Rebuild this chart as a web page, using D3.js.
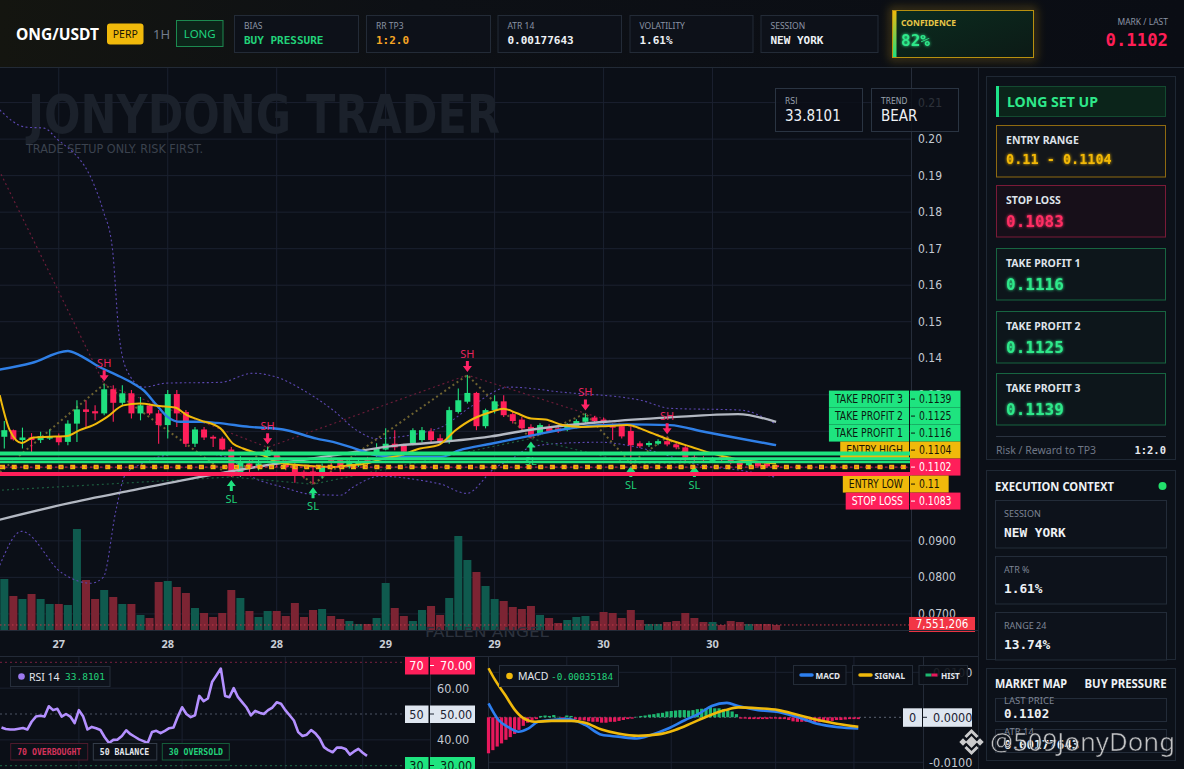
<!DOCTYPE html>
<html>
<head>
<meta charset="utf-8">
<title>ONG/USDT long setup</title>
<script src="https://cdn.jsdelivr.net/npm/d3@7/dist/d3.min.js"></script>
<style>
  html, body { margin: 0; padding: 0; background: #0b0f16; overflow: hidden; }
  svg { display: block; }
</style>
</head>
<body>
<div class="chart"></div>
<script>
// ---------- data (1H candles, oldest first) ----------
const opens = [0.1185,0.1203,0.1176,0.1183,0.1176,0.1180,0.1187,0.1171,0.1221,0.1260,
  0.1255,0.1249,0.1315,0.1278,0.1304,0.1249,0.1271,0.1249,0.1217,0.1302,
  0.1253,0.1166,0.1205,0.1185,0.1180,0.1150,0.1086,0.1112,0.1105,0.1132,
  0.1139,0.1116,0.1107,0.1089,0.1090,0.1077,0.1127,0.1121,0.1102,0.1107,
  0.1121,0.1135,0.1150,0.1166,0.1162,0.1167,0.1176,0.1200,0.1181,0.1171,
  0.1253,0.1281,0.1305,0.1214,0.1258,0.1282,0.1247,0.1232,0.1212,0.1194,
  0.1212,0.1208,0.1205,0.1212,0.1226,0.1238,0.1232,0.1214,0.1214,0.1201,
  0.1167,0.1162,0.1166,0.1173,0.1164,0.1156,0.1130,0.1127,0.1119,0.1130,
  0.1125,0.1116,0.1107,0.1114,0.1112,0.1107];
const highs = [0.1228,0.1205,0.1210,0.1195,0.1199,0.1205,0.1194,0.1230,0.1285,0.1285,
  0.1271,0.1329,0.1326,0.1326,0.1313,0.1294,0.1276,0.1258,0.1313,0.1313,
  0.1258,0.1212,0.1212,0.1189,0.1185,0.1157,0.1132,0.1125,0.1125,0.1156,
  0.1143,0.1121,0.1113,0.1093,0.1102,0.1112,0.1130,0.1125,0.1121,0.1125,
  0.1130,0.1167,0.1208,0.1203,0.1166,0.1208,0.1212,0.1208,0.1192,0.1267,
  0.1317,0.1354,0.1308,0.1262,0.1299,0.1299,0.1253,0.1239,0.1219,0.1222,
  0.1219,0.1214,0.1222,0.1233,0.1249,0.1242,0.1238,0.1221,0.1219,0.1214,
  0.1173,0.1173,0.1178,0.1184,0.1170,0.1162,0.1135,0.1132,0.1130,0.1135,
  0.1130,0.1119,0.1116,0.1118,0.1115,0.1108];
const lows = [0.1153,0.1175,0.1153,0.1141,0.1168,0.1176,0.1162,0.1162,0.1171,0.1212,
  0.1230,0.1244,0.1226,0.1271,0.1235,0.1230,0.1244,0.1166,0.1180,0.1212,
  0.1157,0.1157,0.1176,0.1157,0.1148,0.1075,0.1075,0.1084,0.1093,0.1121,
  0.1102,0.1093,0.1059,0.1071,0.1055,0.1071,0.1093,0.1089,0.1098,0.1102,
  0.1107,0.1130,0.1148,0.1148,0.1121,0.1162,0.1170,0.1170,0.1166,0.1166,
  0.1249,0.1276,0.1203,0.1208,0.1249,0.1239,0.1221,0.1203,0.1180,0.1189,
  0.1198,0.1195,0.1200,0.1208,0.1221,0.1224,0.1219,0.1176,0.1180,0.1113,
  0.1154,0.1157,0.1162,0.1159,0.1151,0.1116,0.1113,0.1116,0.1115,0.1119,
  0.1110,0.1104,0.1104,0.1100,0.1100,0.1099];
const closes = [0.1203,0.1178,0.1183,0.1176,0.1187,0.1185,0.1170,0.1221,0.1260,0.1253,
  0.1249,0.1315,0.1278,0.1304,0.1249,0.1271,0.1249,0.1217,0.1302,0.1249,
  0.1166,0.1205,0.1183,0.1180,0.1150,0.1084,0.1116,0.1103,0.1112,0.1148,
  0.1119,0.1102,0.1084,0.1083,0.1087,0.1104,0.1119,0.1102,0.1113,0.1116,
  0.1112,0.1154,0.1166,0.1156,0.1144,0.1203,0.1203,0.1176,0.1171,0.1258,
  0.1285,0.1305,0.1214,0.1258,0.1282,0.1244,0.1228,0.1208,0.1186,0.1217,
  0.1201,0.1200,0.1217,0.1228,0.1238,0.1228,0.1223,0.1210,0.1186,0.1162,
  0.1159,0.1168,0.1173,0.1164,0.1156,0.1128,0.1125,0.1121,0.1125,0.1123,
  0.1113,0.1107,0.1113,0.1104,0.1104,0.1102];
// volume in millions
const volumes = [76.5,51,46.5,54,46.5,39,39,37.5,151.5,75,
  46.5,60,49.5,39,39,22.5,18,72,73.5,64.5,
  55.5,33,25.5,19.5,25.5,60,48,28.5,19.5,28.5,
  28.5,21,40.5,19.5,30,31.5,21,16.5,13.5,9,
  9,18,70.5,33,21,13.5,30,36,22.5,48,
  141,105,87,66,46.5,43.5,34.5,31.5,36,22.5,
  18,10.5,15,19.5,21,13.5,27,25.5,18,30,
  15,9,9,12,13.5,25.5,18,12,12,7.5,
  13.5,12,9,9,9,7.551206];

const timeTickIdx = [6, 18, 30, 42, 54, 66, 78];
const timeTickLabels = ['27', '28', '28', '29', '29', '30', '30'];
const priceTicks = [0.21, 0.20, 0.19, 0.18, 0.17, 0.16, 0.15, 0.14, 0.13, 0.12, 0.11, 0.10, 0.09, 0.08, 0.07];
const subGridIdx = [18, 42, 66, 84];

// overlays, read as [candle index, price]
const emaBlue = [[-0.5,0.1369],[3,0.1387],[7,0.1420],[8.3,0.1408],[10.5,0.1376],[12.4,0.1354],[14.2,0.1331],
  [15.3,0.1313],[16.8,0.1271],[17.9,0.1241],[19.4,0.1226],[21.6,0.1226],[23.4,0.1223],[27,0.1212],
  [30.7,0.1205],[34.4,0.1180],[36.2,0.1171],[39.2,0.1148],[41,0.1134],[43.6,0.1130],[48.1,0.1130],
  [50.1,0.1148],[53.6,0.1166],[57.6,0.1186],[61.5,0.1205],[65.5,0.1217],[68.6,0.1219],[73.3,0.1217],
  [77.2,0.1198],[80.4,0.1183],[85,0.1162]];
const emaYellow = [[-0.5,0.1299],[0.6,0.1203],[1.9,0.1168],[3.2,0.1183],[5,0.1185],[6.9,0.1187],[8.3,0.1203],
  [9.8,0.1217],[11.3,0.1239],[13.1,0.1271],[14.9,0.1276],[17.1,0.1269],[18.8,0.1265],[20.1,0.1244],
  [21.6,0.1230],[23.8,0.1208],[25.2,0.1166],[26.3,0.1153],[28.5,0.1134],[30,0.1116],[32.6,0.1107],
  [36.2,0.1102],[38.1,0.1107],[39.9,0.1112],[41.7,0.1125],[43.6,0.1134],[45.8,0.1153],[47.8,0.1162],
  [49.7,0.1203],[51.7,0.1235],[53.6,0.1253],[55,0.1262],[56.4,0.1250],[58,0.1235],[59.6,0.1232],
  [61.5,0.1217],[63.5,0.1212],[66.2,0.1214],[68.6,0.1217],[71,0.1198],[73.3,0.1176],[75.7,0.1157],
  [78,0.1139],[80.4,0.1125],[83.2,0.1116],[85,0.1112]];
const emaGray = [[-0.5,0.0958],[6.9,0.1002],[14.2,0.1039],[21.6,0.1075],[28.9,0.1107],[36.2,0.1134],
  [43.6,0.1162],[45.8,0.1166],[53.6,0.1186],[57.6,0.1203],[66.2,0.1226],[73.3,0.1238],[80.8,0.1247],[85,0.1226]];
const bandUpper = [[-0.5,0.2080],[2.3,0.2033],[4.4,0.2030],[5.7,0.2003],[9.9,0.1874],[10.9,0.1803],[11.9,0.1702],
  [12.6,0.1474],[13.5,0.1367],[15.3,0.1321],[17.9,0.1332],[23.8,0.1334],[27.4,0.1359],[30,0.1348],
  [33.3,0.1307],[36.2,0.1258],[38.8,0.1203],[41,0.1180],[43.6,0.1185],[45.8,0.1195],[48.1,0.1211],
  [51.6,0.1271],[55.6,0.1321],[61.5,0.1307],[70.1,0.1285],[73.3,0.1263],[81.1,0.1258],[85,0.1219]];
const bandLower = [[-0.5,0.0833],[1.9,0.0926],[6.4,0.0811],[9.5,0.0784],[10.9,0.0800],[12.3,0.0984],
  [13.3,0.1080],[15.3,0.1113],[18.6,0.1137],[21.6,0.1140],[24.5,0.1129],[27.4,0.1074],[30.7,0.1047],
  [33.7,0.1028],[37,0.1025],[38.4,0.1047],[41.4,0.1077],[45.8,0.1066],[48.1,0.1055],[50.9,0.1030],
  [54,0.1099],[56,0.1126],[57.9,0.1156],[61.2,0.1167],[65.6,0.1170],[67.8,0.1165],[71.1,0.1148],
  [76.6,0.1107],[81.1,0.1093],[85,0.1074]];

// swing points
const shIdx = [11, 29, 51, 64, 73];
const slIdx = [25, 34, 58, 69, 76];
const priorSH = [-4, 0.2088];
const priorSL = [-3, 0.1035];

// trade levels, top to bottom
const levelNames  = ['TAKE PROFIT 3', 'TAKE PROFIT 2', 'TAKE PROFIT 1', 'ENTRY HIGH', '', 'ENTRY LOW', 'STOP LOSS'];
const levelPrices = [0.1139, 0.1125, 0.1116, 0.1104, 0.1102, 0.11, 0.1083];
const levelKinds  = ['tp', 'tp', 'tp', 'entry', 'last', 'entry', 'sl'];

// RSI 14, one value per candle
const rsiValues = [44.8,44.2,44.0,44.0,44.3,44.6,44.0,47.0,49.0,49.3,
  49.0,53.0,51.5,52.0,49.0,50.0,49.0,46.5,51.5,49.0,
  44.0,45.0,44.5,43.8,41.0,38.8,40.0,40.1,41.5,43.7,
  42.2,41.2,40.2,39.5,38.8,43.0,43.5,42.6,43.5,44.5,
  44.8,49.0,52.6,50.0,48.8,49.5,57.0,55.0,56.0,62.5,
  65.0,67.6,57.0,56.5,60.0,56.5,54.5,52.5,49.5,51.2,
  50.5,50.0,51.5,52.5,54.5,54.0,51.5,49.5,47.5,43.0,
  41.5,42.0,43.8,42.5,40.5,37.2,36.0,35.2,37.0,37.0,
  36.5,34.3,35.5,36.5,35.0,33.8101];

// MACD (as plotted against the pane axis)
const macdLine = [[0,0.0031],[2.3,-0.0006],[4.6,-0.0022],[6.9,-0.0032],[9.1,-0.0025],[11.4,-0.0010],[14.5,-0.0006],
  [18.3,-0.0004],[22.2,-0.0017],[26,-0.0039],[29.8,-0.0043],[34.1,-0.0047],[37.5,-0.0039],[41.3,-0.0025],
  [45.2,-0.0006],[48.2,0.0007],[51.3,0.0025],[54.8,0.0032],[57.4,0.0025],[62,0.0016],[66.6,0.0012],
  [71.2,0.0000],[75.8,-0.0015],[80.4,-0.0022],[85,-0.0025]];
const signalLine = [[0,0.0109],[1.5,0.0083],[3.8,0.0050],[6.1,0.0016],[8,-0.0002],[10.7,-0.0010],[14.5,-0.0008],
  [19.1,-0.0008],[22.2,-0.0012],[26,-0.0027],[29.8,-0.0036],[34.4,-0.0041],[39,-0.0038],[42.9,-0.0028],
  [46.7,-0.0013],[50.5,0.0003],[54.4,0.0016],[57.4,0.0022],[62,0.0020],[66.6,0.0016],[71.2,0.0005],
  [75.8,-0.0006],[80.4,-0.0015],[85,-0.0021]];
const histValues = [-0.0080,-0.0073,-0.0065,-0.0058,-0.0050,-0.0044,-0.0037,-0.0028,-0.0019,-0.0012,
  -0.0007,-0.0004,0.0003,0.0004,0.0003,0.0005,0.0001,-0.0003,0.0004,0.0003,
  -0.0004,-0.0006,-0.0007,-0.0009,-0.0010,-0.0010,-0.0012,-0.0012,-0.0010,-0.0010,
  -0.0008,-0.0006,-0.0004,-0.0003,0.0001,0.0003,0.0004,0.0006,0.0007,0.0009,
  0.0010,0.0013,0.0014,0.0015,0.0016,0.0016,0.0015,0.0016,0.0018,0.0019,
  0.0020,0.0024,0.0020,0.0020,0.0018,0.0016,0.0013,0.0007,-0.0003,-0.0003,
  -0.0004,-0.0004,-0.0004,-0.0004,-0.0004,-0.0003,-0.0003,-0.0004,-0.0004,-0.0006,
  -0.0009,-0.0010,-0.0010,-0.0010,-0.0010,-0.0012,-0.0011,-0.0010,-0.0010,-0.0008,
  -0.0006,-0.0006,-0.0005,-0.0004,-0.0004,-0.0004];

// header + panel texts
const headerCards = ['BIAS', 'RR TP3', 'ATR 14', 'VOLATILITY', 'SESSION'];
const headerValues = ['BUY PRESSURE', '1:2.0', '0.00177643', '1.61%', 'NEW YORK'];
const setupNames = ['ENTRY RANGE', 'STOP LOSS', 'TAKE PROFIT 1', 'TAKE PROFIT 2', 'TAKE PROFIT 3'];
const setupValues = ['0.11 - 0.1104', '0.1083', '0.1116', '0.1125', '0.1139'];
const setupKinds = ['entry', 'sl', 'tp', 'tp', 'tp'];
const contextNames = ['SESSION', 'ATR %', 'RANGE 24'];
const contextValues = ['NEW YORK', '1.61%', '13.74%'];
const marketNames = ['LAST PRICE', 'ATR 14'];
const marketValues = ['0.1102', '0.00177643'];

// ---------- drawing ----------
const SANS = "'Noto Sans','DejaVu Sans',sans-serif";
const NARROW = "'Liberation Sans Narrow','DejaVu Sans Condensed','Arial Narrow',sans-serif";
const MONO = "'DejaVu Sans Mono','Liberation Mono',monospace";
const UP = '#1fe07f', DN = '#ff1f5a';
const GRID = '#1b2130';

const svg = d3.select('.chart').append('svg')
  .attr('width', 1184).attr('height', 769)
  .attr('font-family', SANS);

const defs = svg.append('defs');
defs.append('clipPath').attr('id', 'mainClip')
  .append('rect').attr('x', 0).attr('y', 68).attr('width', 910).attr('height', 562);
const hg = defs.append('linearGradient').attr('id', 'headBg').attr('x1', 0).attr('x2', 1).attr('y1', 0).attr('y2', 0);
hg.append('stop').attr('offset', '0%').attr('stop-color', '#141510');
hg.append('stop').attr('offset', '35%').attr('stop-color', '#0d1015');
hg.append('stop').attr('offset', '100%').attr('stop-color', '#0a0d14');
const cg = defs.append('linearGradient').attr('id', 'confBg').attr('x1', 0).attr('x2', 1).attr('y1', 0).attr('y2', 1);
cg.append('stop').attr('offset', '0%').attr('stop-color', '#0b2c1f');
cg.append('stop').attr('offset', '100%').attr('stop-color', '#0c1a16');
const ag = defs.append('linearGradient').attr('id', 'confBar').attr('x1', 0).attr('x2', 0).attr('y1', 0).attr('y2', 1);
ag.append('stop').attr('offset', '0%').attr('stop-color', '#f0b90b');
ag.append('stop').attr('offset', '100%').attr('stop-color', '#1fe07f');
const blur = defs.append('filter').attr('id', 'blur').attr('x', '-30%').attr('y', '-60%').attr('width', '160%').attr('height', '220%');
blur.append('feGaussianBlur').attr('stdDeviation', 5);
const glow = defs.append('filter').attr('id', 'glow');
glow.append('feGaussianBlur').attr('in', 'SourceGraphic').attr('stdDeviation', 1.6).attr('result', 'b');
const gm = glow.append('feMerge');
gm.append('feMergeNode').attr('in', 'b');
gm.append('feMergeNode').attr('in', 'SourceGraphic');

svg.append('rect').attr('width', 1184).attr('height', 769).attr('fill', '#0b0f17');

// squeeze a narrow label to a fixed share of its natural width
function squeeze(t, k) {
  const w = t.node().getComputedTextLength() * k;
  t.attr('textLength', w).attr('lengthAdjust', 'spacingAndGlyphs');
  return w;
}

// ----- scales -----
const x = d3.scaleLinear().domain([0, 85]).range([4.3, 776.1]);
const y = d3.scaleLinear().domain([0.07, 0.21]).range([613.9, 102.6]);
const yVol = d3.scaleLinear().domain([0, 150]).range([630, 530]);
const xR = d3.scaleLinear().domain([0, 85]).range([1.5, 367]);
const yR = d3.scaleLinear().domain([30, 70]).range([765.7, 662.3]);
const xD = d3.scaleLinear().domain([0, 85]).range([488.5, 858.3]);
const yD = d3.scaleLinear().domain([-0.01, 0.01]).range([762.3, 672.3]);

// ----- main chart grid -----
const grid = svg.append('g');
grid.selectAll('.hg').data(priceTicks).join('line')
  .attr('x1', 0).attr('x2', 911).attr('y1', d => y(d)).attr('y2', d => y(d))
  .attr('stroke', GRID);
grid.selectAll('.vg').data(timeTickIdx).join('line')
  .attr('x1', d => x(d)).attr('x2', d => x(d)).attr('y1', 68).attr('y2', 630)
  .attr('stroke', GRID);

// watermark
svg.append('text').attr('x', 28).attr('y', 133).text('JONYDONG TRADER')
  .attr('font-family', NARROW).attr('font-weight', 'bold').attr('font-size', 54)
  .attr('textLength', 472).attr('lengthAdjust', 'spacingAndGlyphs').attr('fill', '#1b212b');
svg.append('text').attr('x', 26).attr('y', 153).text('TRADE SETUP ONLY. RISK FIRST.')
  .attr('font-family', NARROW).attr('font-size', 12.5)
  .attr('textLength', 177).attr('lengthAdjust', 'spacingAndGlyphs').attr('fill', '#3b424e');

const main = svg.append('g').attr('clip-path', 'url(#mainClip)');
const idx = d3.range(opens.length);
const isUp = i => closes[i] >= opens[i];

// volume
main.append('g').selectAll('rect').data(idx).join('rect')
  .attr('x', i => x(i) - 4).attr('width', 8)
  .attr('y', i => yVol(volumes[i])).attr('height', i => 630 - yVol(volumes[i]))
  .attr('fill', i => isUp(i) ? '#0f5a4e' : '#7c2433');
main.append('line').attr('x1', 0).attr('x2', 910)
  .attr('y1', yVol(volumes[85])).attr('y2', yVol(volumes[85]))
  .attr('stroke', '#c23a4c').attr('stroke-dasharray', '1.5,2.5');
svg.append('text').attr('x', 487).attr('y', 637).text('FALLEN ANGEL')
  .attr('text-anchor', 'middle').attr('font-family', NARROW).attr('font-size', 14)
  .attr('textLength', 124).attr('lengthAdjust', 'spacingAndGlyphs').attr('fill', '#2c323d');

const pathLine = d3.line().x(d => x(d[0])).y(d => y(d[1])).curve(d3.curveMonotoneX);
const straight = d3.line().x(d => x(d[0])).y(d => y(d[1]));

// bollinger bands
[bandUpper, bandLower].forEach(b => {
  main.append('path').attr('d', pathLine(b)).attr('fill', 'none')
    .attr('stroke', '#5b47b0').attr('stroke-width', 1.1).attr('stroke-dasharray', '2,2.5');
});

// swing structure lines
const shPts = [priorSH].concat(shIdx.map(i => [i, highs[i]]));
const slPts = [priorSL].concat(slIdx.map(i => [i, lows[i]]));
const zig = [priorSL].concat(d3.merge(shIdx.map((h, k) => [[h, highs[h]], [slIdx[k], lows[slIdx[k]]]])));
main.append('path').attr('d', straight(shPts)).attr('fill', 'none')
  .attr('stroke', '#6a1c38').attr('stroke-width', 1.2).attr('stroke-dasharray', '2,3');
main.append('path').attr('d', straight(slPts)).attr('fill', 'none')
  .attr('stroke', '#1c5a3e').attr('stroke-width', 1.2).attr('stroke-dasharray', '2,3');
main.append('path').attr('d', straight(zig)).attr('fill', 'none')
  .attr('stroke', '#6e6230').attr('stroke-width', 2).attr('stroke-dasharray', '2,3');

// candles
const candle = main.append('g').selectAll('g').data(idx).join('g');
candle.append('line')
  .attr('x1', i => x(i)).attr('x2', i => x(i))
  .attr('y1', i => y(highs[i])).attr('y2', i => y(lows[i]))
  .attr('stroke', i => isUp(i) ? UP : DN).attr('stroke-width', 1.1);
candle.append('rect')
  .attr('x', i => x(i) - 3).attr('width', 6)
  .attr('y', i => y(Math.max(opens[i], closes[i])))
  .attr('height', i => Math.max(1.5, Math.abs(y(opens[i]) - y(closes[i]))))
  .attr('fill', i => isUp(i) ? UP : DN);

// moving averages
main.append('path').attr('d', pathLine(emaGray)).attr('fill', 'none').attr('stroke', '#b3b8c2').attr('stroke-width', 2.4);
main.append('path').attr('d', pathLine(emaBlue)).attr('fill', 'none').attr('stroke', '#2f7fe6').attr('stroke-width', 2.4);
main.append('path').attr('d', pathLine(emaYellow)).attr('fill', 'none').attr('stroke', '#f0b90b').attr('stroke-width', 2);

// swing markers
const sh = main.append('g').selectAll('g').data(shIdx).join('g')
  .attr('transform', i => `translate(${x(i)},${y(highs[i])})`);
sh.append('path').attr('d', 'M-4.5,-9 L4.5,-9 L0,-3 Z M-1.5,-14 L1.5,-14 L1.5,-9 L-1.5,-9 Z').attr('fill', '#ff2366');
sh.append('text').attr('y', -17).attr('text-anchor', 'middle').attr('font-size', 11)
  .attr('fill', '#e8245e').text('SH');
const sl = main.append('g').selectAll('g').data(slIdx).join('g')
  .attr('transform', i => `translate(${x(i)},${y(lows[i])})`);
sl.append('path').attr('d', 'M-4.5,9 L4.5,9 L0,3 Z M-1.5,14 L1.5,14 L1.5,9 L-1.5,9 Z').attr('fill', '#1fe07f');
sl.append('text').attr('y', 26).attr('text-anchor', 'middle').attr('font-size', 11)
  .attr('fill', '#1fcf78').text('SL');

// level tags: stacked 17px apart around the last price
const tagFill = { tp: '#1ee47f', entry: '#f0b90b', last: '#ff1f5a', sl: '#ff1f5a' };
const tagInk = { tp: '#0b1a12', entry: '#1a1405', last: '#ffffff', sl: '#ffffff' };
const anchorK = levelKinds.indexOf('last');
const tagY = k => y(levelPrices[anchorK]) + (k - anchorK) * 17;
const NARROW_K = 0.86; // fallback squeeze when no narrow face is installed

const tagLabels = svg.append('g');
levelNames.forEach((name, k) => {
  if (!name) return;
  const t = tagLabels.append('text').attr('y', tagY(k) + 4).attr('font-family', NARROW)
    .attr('font-size', 12).attr('fill', tagInk[levelKinds[k]]).text(name);
  const w = Math.min(t.node().getComputedTextLength(), squeeze(t, NARROW_K));
  t.attr('textLength', w).attr('x', 903 - w);
  tagLabels.insert('rect', 'text').attr('x', 909 - w - 12).attr('y', tagY(k) - 8.5)
    .attr('width', w + 12).attr('height', 17).attr('fill', tagFill[levelKinds[k]]);
});

// level lines
const levelWidth = [4, 3, 2.4];
levelPrices.forEach((p, k) => {
  const kind = levelKinds[k];
  const ln = svg.append('line').attr('x1', 0).attr('x2', 910).attr('y1', y(p)).attr('y2', y(p));
  if (kind === 'tp') ln.attr('stroke', '#1ee47f').attr('stroke-width', levelWidth[k]);
  if (kind === 'entry') ln.attr('stroke', '#f0b90b').attr('stroke-width', 3).attr('stroke-dasharray', '5,6.7');
  if (kind === 'sl') ln.attr('stroke', '#ff1f5a').attr('stroke-width', 4);
});
svg.append('line').attr('x1', 0).attr('x2', 910)
  .attr('y1', y(levelPrices[anchorK])).attr('y2', y(levelPrices[anchorK]))
  .attr('stroke', '#ff1f5a').attr('stroke-width', 1).attr('stroke-dasharray', '2.5,2.5');

// price axis
svg.append('line').attr('x1', 911.5).attr('x2', 911.5).attr('y1', 68).attr('y2', 630).attr('stroke', '#262d3a');
svg.append('g').selectAll('text').data(priceTicks).join('text')
  .attr('x', 918).attr('y', d => y(d) + 4)
  .attr('font-family', NARROW).attr('font-size', 12).attr('fill', '#c4c9d2')
  .text(d => d >= 0.1 ? d3.format('.2f')(d) : d3.format('.4f')(d));

// price boxes on the axis
levelPrices.forEach((p, k) => {
  const kind = levelKinds[k];
  const g = svg.append('g');
  const t = g.append('text').attr('x', 919).attr('y', tagY(k) + 4).attr('font-family', NARROW)
    .attr('font-size', 12).attr('fill', tagInk[kind]).text(String(p));
  const w = Math.min(t.node().getComputedTextLength(), squeeze(t, NARROW_K));
  t.attr('textLength', w);
  g.insert('rect', 'text').attr('x', 910).attr('y', tagY(k) - 8.5).attr('width', w + 18).attr('height', 17)
    .attr('fill', tagFill[kind]);
  g.append('line').attr('x1', 911).attr('x2', 915).attr('y1', tagY(k)).attr('y2', tagY(k))
    .attr('stroke', tagInk[kind]).attr('stroke-width', 1);
});

// volume tag
svg.append('rect').attr('x', 909).attr('y', yVol(volumes[85]) - 8).attr('width', 66).attr('height', 15).attr('fill', '#f23645');
svg.append('text').attr('x', 942).attr('y', yVol(volumes[85]) + 3.5).attr('text-anchor', 'middle')
  .attr('font-family', NARROW).attr('font-size', 11.5).attr('fill', '#ffffff')
  .text(d3.format(',')(Math.round(volumes[85] * 1e6)));

// RSI / TREND badges
[['RSI', '33.8101', 775], ['TREND', 'BEAR', 871]].forEach(b => {
  svg.append('rect').attr('x', b[2] + 0.5).attr('y', 88.5).attr('width', 87).attr('height', 43)
    .attr('fill', '#0b0f17').attr('fill-opacity', 0.82).attr('stroke', '#2a3442');
  svg.append('text').attr('x', b[2] + 10).attr('y', 104).attr('font-family', NARROW)
    .attr('font-size', 8.5).attr('fill', '#98a0ad').text(b[0]);
  svg.append('text').attr('x', b[2] + 10).attr('y', 121).attr('font-family', NARROW)
    .attr('font-size', 15).attr('fill', '#eef1f5').text(b[1]);
});

// time axis
svg.append('line').attr('x1', 0).attr('x2', 978).attr('y1', 630.5).attr('y2', 630.5).attr('stroke', '#232a37');
svg.append('g').selectAll('text').data(timeTickIdx).join('text')
  .attr('x', d => x(d)).attr('y', 648).attr('text-anchor', 'middle')
  .attr('font-size', 11).attr('font-weight', 'bold').attr('fill', '#c9ced6')
  .text((d, k) => timeTickLabels[k]);
svg.append('line').attr('x1', 0).attr('x2', 978).attr('y1', 656.5).attr('y2', 656.5).attr('stroke', '#232a37');
svg.append('line').attr('x1', 488.5).attr('x2', 488.5).attr('y1', 656).attr('y2', 769).attr('stroke', '#232a37');

// ----- RSI pane -----
const rsi = svg.append('g');
rsi.selectAll('.g1').data([60, 40]).join('line')
  .attr('x1', 0).attr('x2', 430).attr('y1', d => yR(d)).attr('y2', d => yR(d)).attr('stroke', GRID);
rsi.selectAll('.g2').data(subGridIdx).join('line')
  .attr('x1', d => xR(d)).attr('x2', d => xR(d)).attr('y1', 657).attr('y2', 769).attr('stroke', GRID);
[[70, '#7a2040'], [50, '#4d5565'], [30, '#1a6b45']].forEach(l => {
  rsi.append('line').attr('x1', 0).attr('x2', 405).attr('y1', yR(l[0])).attr('y2', yR(l[0]))
    .attr('stroke', l[1]).attr('stroke-dasharray', '2,3');
});
rsi.append('path').datum(rsiValues)
  .attr('d', d3.line().x((d, i) => xR(i)).y(d => yR(d)))
  .attr('fill', 'none').attr('stroke', '#b490ff').attr('stroke-width', 2.6).attr('stroke-linejoin', 'round');
rsi.append('line').attr('x1', 430.5).attr('x2', 430.5).attr('y1', 657).attr('y2', 769).attr('stroke', '#232a37');
rsi.selectAll('.lab').data([60, 40]).join('text')
  .attr('x', 437).attr('y', d => yR(d) + 4.5).attr('font-family', NARROW).attr('font-size', 12.5)
  .attr('fill', '#c4c9d2').text(d => d3.format('.2f')(d));
[[70, 657, '#ff1f5a', '#ffffff'], [50, 705.5, '#dfe6f0', '#1b2230'], [30, 757, '#1ee47f', '#0b1a12']].forEach(b => {
  rsi.append('rect').attr('x', 405).attr('y', b[1]).attr('width', 23.5).attr('height', 17.5).attr('fill', b[2]);
  rsi.append('rect').attr('x', 430).attr('y', b[1]).attr('width', 45).attr('height', 17.5).attr('fill', b[2]);
  rsi.append('text').attr('x', 416.5).attr('y', b[1] + 13).attr('text-anchor', 'middle').attr('font-family', NARROW)
    .attr('font-size', 12.5).attr('fill', b[3]).text(b[0]);
  rsi.append('text').attr('x', 440).attr('y', b[1] + 13).attr('font-family', NARROW)
    .attr('font-size', 12.5).attr('fill', b[3]).text(d3.format('.2f')(b[0]));
  rsi.append('line').attr('x1', 430).attr('x2', 434).attr('y1', b[1] + 8.5).attr('y2', b[1] + 8.5).attr('stroke', b[3]);
});
rsi.append('rect').attr('x', 10.5).attr('y', 666.5).attr('width', 99.5).attr('height', 20).attr('fill', '#0d121b').attr('stroke', '#262e3b');
rsi.append('circle').attr('cx', 21.5).attr('cy', 676.5).attr('r', 3.3).attr('fill', '#9d7af0');
rsi.append('text').attr('x', 29).attr('y', 680.5).attr('font-size', 10.5).attr('fill', '#e3e6ec').text('RSI 14');
rsi.append('text').attr('x', 65).attr('y', 680).attr('font-family', MONO).attr('font-size', 9.5).attr('fill', '#22d37a')
  .text(d3.format('.4f')(rsiValues[rsiValues.length - 1]));
[['70 OVERBOUGHT', 10.7, 77, '#d6335b', '#4d1a2c'], ['50 BALANCE', 93.3, 63.5, '#e3e6ec', '#343c49'],
 ['30 OVERSOLD', 162.3, 67, '#22d37a', '#155c3a']].forEach(b => {
  rsi.append('rect').attr('x', b[1]).attr('y', 743.5).attr('width', b[2]).attr('height', 16.5)
    .attr('fill', '#0c1018').attr('stroke', b[4]);
  rsi.append('text').attr('x', b[1] + 6.5).attr('y', 755).attr('font-family', MONO).attr('font-weight', 'bold')
    .attr('font-size', 8.2).attr('fill', b[3]).text(b[0]);
});

// ----- MACD pane -----
const md = svg.append('g');
md.selectAll('.g1').data([0.01, -0.01]).join('line')
  .attr('x1', 489).attr('x2', 923).attr('y1', d => yD(d)).attr('y2', d => yD(d)).attr('stroke', GRID);
md.selectAll('.g2').data(subGridIdx).join('line')
  .attr('x1', d => xD(d)).attr('x2', d => xD(d)).attr('y1', 657).attr('y2', 769).attr('stroke', GRID);
md.append('line').attr('x1', 489).attr('x2', 903).attr('y1', yD(0)).attr('y2', yD(0))
  .attr('stroke', '#5a6272').attr('stroke-dasharray', '2,3');
md.selectAll('.hist').data(histValues).join('rect')
  .attr('x', (d, i) => xD(i) - 1.6).attr('width', 3.2)
  .attr('y', d => yD(Math.max(0, d))).attr('height', d => Math.abs(yD(d) - yD(0)))
  .attr('fill', d => d >= 0 ? '#1db870' : '#e8185c');
const dLine = d3.line().x(d => xD(d[0])).y(d => yD(d[1])).curve(d3.curveMonotoneX);
md.append('path').attr('d', dLine(macdLine)).attr('fill', 'none').attr('stroke', '#2d7ff0').attr('stroke-width', 2.6);
md.append('path').attr('d', dLine(signalLine)).attr('fill', 'none').attr('stroke', '#f0b90b').attr('stroke-width', 2.6);
md.append('line').attr('x1', 923.5).attr('x2', 923.5).attr('y1', 657).attr('y2', 769).attr('stroke', '#232a37');
md.append('text').attr('x', 933).attr('y', yD(0.01) + 4.5).attr('font-family', NARROW).attr('font-size', 12.5)
  .attr('fill', '#c4c9d2').text('0.0100');
md.append('text').attr('x', 929).attr('y', yD(-0.01) + 4.5).attr('font-family', NARROW).attr('font-size', 12.5)
  .attr('fill', '#c4c9d2').text('-0.0100');
md.append('rect').attr('x', 903).attr('y', yD(0) - 9).attr('width', 19).attr('height', 18.5).attr('fill', '#dfe6f0');
md.append('rect').attr('x', 923).attr('y', yD(0) - 9).attr('width', 49).attr('height', 18.5).attr('fill', '#dfe6f0');
md.append('text').attr('x', 912.5).attr('y', yD(0) + 4.5).attr('text-anchor', 'middle').attr('font-family', NARROW)
  .attr('font-size', 12.5).attr('fill', '#1b2230').text('0');
md.append('text').attr('x', 933).attr('y', yD(0) + 4.5).attr('font-family', NARROW)
  .attr('font-size', 12.5).attr('fill', '#1b2230').text('0.0000');
md.append('line').attr('x1', 923).attr('x2', 927).attr('y1', yD(0)).attr('y2', yD(0)).attr('stroke', '#1b2230');
md.append('rect').attr('x', 499.5).attr('y', 665.5).attr('width', 119).attr('height', 21).attr('fill', '#0d121b').attr('stroke', '#262e3b');
md.append('circle').attr('cx', 509.5).attr('cy', 676).attr('r', 3.3).attr('fill', '#f0b90b');
md.append('text').attr('x', 518).attr('y', 680).attr('font-size', 10.5).attr('fill', '#e3e6ec').text('MACD');
md.append('text').attr('x', 551).attr('y', 679.5).attr('font-family', MONO).attr('font-size', 9.4).attr('fill', '#22d37a').text('-0.00035184');
[['MACD', 793, 52.5, '#2d7ff0'], ['SIGNAL', 852, 60, '#f0b90b'], ['HIST', 918.5, 48.5, null]].forEach(b => {
  md.append('rect').attr('x', b[1] + 0.5).attr('y', 665.5).attr('width', b[2]).attr('height', 19)
    .attr('fill', '#0b0f17').attr('fill-opacity', 0.9).attr('stroke', '#242c38');
  if (b[3]) {
    md.append('line').attr('x1', b[1] + 8).attr('x2', b[1] + 19).attr('y1', 675).attr('y2', 675)
      .attr('stroke', b[3]).attr('stroke-width', 3.5).attr('stroke-linecap', 'round');
  } else {
    md.append('rect').attr('x', b[1] + 7).attr('y', 673.5).attr('width', 6).attr('height', 3).attr('fill', '#1db870');
    md.append('rect').attr('x', b[1] + 13).attr('y', 673.5).attr('width', 6).attr('height', 3).attr('fill', '#e8185c');
  }
  md.append('text').attr('x', b[1] + 22.5).attr('y', 678.5).attr('font-size', 8.2).attr('font-weight', 'bold')
    .attr('fill', '#e3e6ec').text(b[0]);
});

// ----- header -----
const head = svg.append('g');
head.append('rect').attr('width', 1184).attr('height', 67.5).attr('fill', 'url(#headBg)');
head.append('line').attr('x1', 0).attr('x2', 1184).attr('y1', 67.5).attr('y2', 67.5).attr('stroke', '#222a36');
head.append('text').attr('x', 16).attr('y', 40).attr('font-size', 16).attr('font-weight', 'bold')
  .attr('textLength', 83).attr('lengthAdjust', 'spacingAndGlyphs').attr('fill', '#ffffff').text('ONG/USDT');
head.append('rect').attr('x', 107).attr('y', 23.5).attr('width', 36.5).attr('height', 21).attr('rx', 3).attr('fill', '#f0b90b');
head.append('text').attr('x', 125.3).attr('y', 38).attr('text-anchor', 'middle').attr('font-size', 10.5)
  .attr('fill', '#1b1606').text('PERP');
head.append('text').attr('x', 153).attr('y', 38.5).attr('font-size', 13).attr('fill', '#737c8c').text('1H');
head.append('rect').attr('x', 176.5).attr('y', 20.5).attr('width', 46.5).attr('height', 26).attr('fill', '#0c2419').attr('stroke', '#1c8a50');
head.append('text').attr('x', 199.8).attr('y', 38).attr('text-anchor', 'middle').attr('font-size', 11.5)
  .attr('fill', '#1fd17f').text('LONG');

const cardX = [234, 366, 497.5, 629.5, 760.5];
const cardW = [124, 124, 123.5, 123, 117];
const cardInk = ['#22d37a', '#f5a524', '#eef1f5', '#eef1f5', '#eef1f5'];
headerCards.forEach((c, k) => {
  head.append('rect').attr('x', cardX[k] + 0.5).attr('y', 15.5).attr('width', cardW[k]).attr('height', 37)
    .attr('fill', '#0d1119').attr('stroke', '#232b37');
  head.append('text').attr('x', cardX[k] + 10).attr('y', 29).attr('font-size', 8.5).attr('fill', '#8b94a5').text(c);
  head.append('text').attr('x', cardX[k] + 10).attr('y', 44).attr('font-family', MONO).attr('font-weight', 'bold')
    .attr('font-size', 11).attr('fill', cardInk[k]).text(headerValues[k]);
});
// confidence card
head.append('rect').attr('x', 892.5).attr('y', 10.5).attr('width', 141).attr('height', 47)
  .attr('fill', 'none').attr('stroke', '#c99a14').attr('stroke-width', 6).attr('opacity', 0.35).attr('filter', 'url(#blur)');
head.append('rect').attr('x', 892.5).attr('y', 10.5).attr('width', 141).attr('height', 47)
  .attr('fill', 'url(#confBg)').attr('stroke', '#b8900f');
head.append('rect').attr('x', 893).attr('y', 11).attr('width', 3.5).attr('height', 46).attr('fill', 'url(#confBar)');
head.append('text').attr('x', 901).attr('y', 26).attr('font-size', 8.5).attr('font-weight', 'bold')
  .attr('fill', '#e8c547').text('CONFIDENCE');
head.append('text').attr('x', 901).attr('y', 45.5).attr('font-family', MONO).attr('font-weight', 'bold')
  .attr('font-size', 16).attr('fill', '#2ee88a').attr('filter', 'url(#glow)').text('82%');
head.append('text').attr('x', 1168).attr('y', 25).attr('text-anchor', 'end').attr('font-size', 8.5)
  .attr('fill', '#8b94a5').text('MARK / LAST');
head.append('text').attr('x', 1168).attr('y', 46).attr('text-anchor', 'end').attr('font-family', MONO)
  .attr('font-weight', 'bold').attr('font-size', 17.3).attr('fill', '#ff1e56').text('0.1102');

// ----- right panel -----
svg.append('line').attr('x1', 978.5).attr('x2', 978.5).attr('y1', 68).attr('y2', 769).attr('stroke', '#1e2530');
const rp = svg.append('g');
rp.append('rect').attr('x', 986.5).attr('y', 76.5).attr('width', 189).attr('height', 383)
  .attr('fill', '#0c1119').attr('stroke', '#1f2834');
rp.append('rect').attr('x', 996.5).attr('y', 86.5).attr('width', 169).attr('height', 30)
  .attr('fill', '#0b241a').attr('stroke', '#134a30');
rp.append('rect').attr('x', 996).attr('y', 86).attr('width', 3).attr('height', 31).attr('fill', '#1de38a');
rp.append('text').attr('x', 1007).attr('y', 107).attr('font-size', 15).attr('font-weight', 'bold')
  .attr('textLength', 91).attr('lengthAdjust', 'spacingAndGlyphs').attr('fill', '#2ee88a').text('LONG SET UP');

const setupTop = [125.5, 185.5, 248.5, 311.5, 373.5];
const setupStyle = {
  entry: { stroke: '#8f6a10', fill: '#13161a', ink: '#f2b807', size: 13.5 },
  sl: { stroke: '#7a1a38', fill: '#170f19', ink: '#ff2d63', size: 16 },
  tp: { stroke: '#176541', fill: '#0d161b', ink: '#2ee88a', size: 16 }
};
setupNames.forEach((n, k) => {
  const st = setupStyle[setupKinds[k]];
  rp.append('rect').attr('x', 996.5).attr('y', setupTop[k]).attr('width', 169).attr('height', 51.5)
    .attr('fill', st.fill).attr('stroke', st.stroke);
  rp.append('text').attr('x', 1006).attr('y', setupTop[k] + 18.5).attr('font-size', 10.5).attr('font-weight', 'bold')
    .attr('fill', '#dfe3ea').text(n);
  rp.append('text').attr('x', 1006).attr('y', setupTop[k] + (setupKinds[k] === 'entry' ? 38.5 : 41.5))
    .attr('font-family', MONO).attr('font-weight', 'bold').attr('font-size', st.size)
    .attr('fill', st.ink).attr('filter', 'url(#glow)').text(setupValues[k]);
});
rp.append('line').attr('x1', 996).attr('x2', 1166).attr('y1', 436.5).attr('y2', 436.5).attr('stroke', '#2a3340');
rp.append('text').attr('x', 996).attr('y', 454).attr('font-size', 10.5).attr('fill', '#6f7786').text('Risk / Reward to TP3');
rp.append('text').attr('x', 1166).attr('y', 454).attr('text-anchor', 'end').attr('font-family', MONO)
  .attr('font-weight', 'bold').attr('font-size', 10.5).attr('fill', '#e5e8ee').text('1:2.0');

// execution context
rp.append('rect').attr('x', 986.5).attr('y', 470.5).attr('width', 189).attr('height', 189)
  .attr('fill', '#0c1119').attr('stroke', '#1f2834');
rp.append('text').attr('x', 995).attr('y', 491).attr('font-size', 12).attr('font-weight', 'bold')
  .attr('textLength', 119).attr('lengthAdjust', 'spacingAndGlyphs').attr('fill', '#eef1f5').text('EXECUTION CONTEXT');
rp.append('circle').attr('cx', 1162.5).attr('cy', 486).attr('r', 4).attr('fill', '#22e06b');
const ctxTop = [500.5, 556.5, 612.5];
contextNames.forEach((n, k) => {
  rp.append('rect').attr('x', 995.5).attr('y', ctxTop[k]).attr('width', 171).attr('height', 47.5)
    .attr('fill', '#0d121b').attr('stroke', '#232c39');
  rp.append('text').attr('x', 1004).attr('y', ctxTop[k] + 16).attr('font-size', 9).attr('fill', '#7d8595').text(n);
  rp.append('text').attr('x', 1004).attr('y', ctxTop[k] + 36.5).attr('font-family', MONO).attr('font-weight', 'bold')
    .attr('font-size', 12.8).attr('fill', '#eef1f5').text(contextValues[k]);
});

// market map
rp.append('rect').attr('x', 986.5).attr('y', 668.5).attr('width', 189).attr('height', 92)
  .attr('fill', '#0c1119').attr('stroke', '#1f2834');
rp.append('text').attr('x', 995).attr('y', 688).attr('font-size', 12).attr('font-weight', 'bold')
  .attr('textLength', 72).attr('lengthAdjust', 'spacingAndGlyphs').attr('fill', '#eef1f5').text('MARKET MAP');
rp.append('text').attr('x', 1166.5).attr('y', 688).attr('text-anchor', 'end').attr('font-size', 12).attr('font-weight', 'bold')
  .attr('textLength', 82).attr('lengthAdjust', 'spacingAndGlyphs').attr('fill', '#eef1f5').text('BUY PRESSURE');
const mkTop = [698.5, 729.5];
marketNames.forEach((n, k) => {
  rp.append('rect').attr('x', 995.5).attr('y', mkTop[k]).attr('width', 171).attr('height', 23)
    .attr('fill', '#0d121b').attr('stroke', '#232c39');
  rp.append('text').attr('x', 1004).attr('y', mkTop[k] + 5).attr('font-size', 9.5).attr('fill', '#7d8595').text(n);
  rp.append('text').attr('x', 1004).attr('y', mkTop[k] + 19.5).attr('font-family', MONO).attr('font-weight', 'bold')
    .attr('font-size', 12.5).attr('fill', '#eef1f5').text(marketValues[k]);
});

// screenshot watermark (logo + handle)
const wm = svg.append('g').attr('opacity', 0.88);
const logo = wm.append('g').attr('transform', 'translate(971.5,742)');
[[0, 0, 4.2], [-8.5, 0, 2.6], [8.5, 0, 2.6]].forEach(d => {
  logo.append('rect').attr('x', d[0] - d[2]).attr('y', d[1] - d[2]).attr('width', d[2] * 2).attr('height', d[2] * 2)
    .attr('transform', `rotate(45,${d[0]},${d[1]})`).attr('fill', '#e6e6e6');
});
logo.append('path').attr('d', 'M-6,-5 L0,-11 L6,-5 M-6,5 L0,11 L6,5').attr('fill', 'none')
  .attr('stroke', '#e6e6e6').attr('stroke-width', 3);
wm.append('text').attr('x', 990).attr('y', 751).attr('font-size', 25)
  .attr('textLength', 185).attr('lengthAdjust', 'spacingAndGlyphs')
  .attr('fill', '#dcdcdc').attr('stroke', '#1a1f28').attr('stroke-width', 0.6).text('@509JonyDong');
</script>
</body>
</html>
